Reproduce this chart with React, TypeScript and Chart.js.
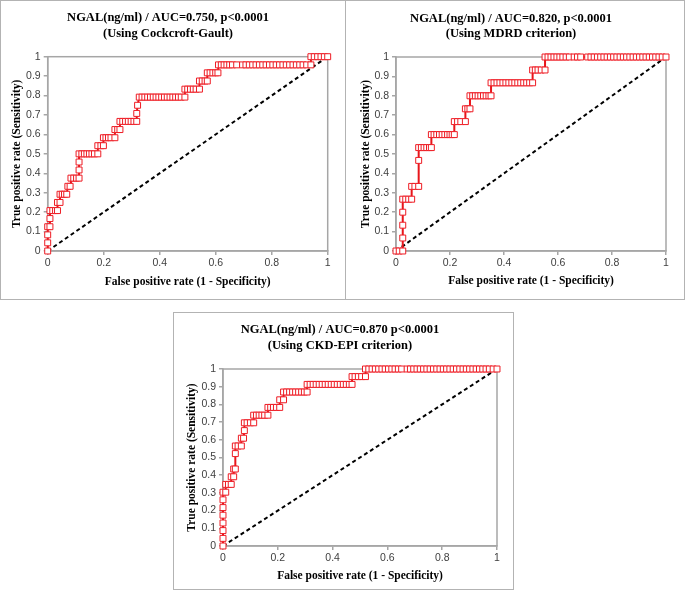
import React, { useEffect, useRef } from "react";
import { Chart, registerables } from "chart.js";
Chart.register(...registerables);

// ---------- DATA ----------
const titleCG = ["NGAL(ng/ml) / AUC=0.750, p<0.0001", "(Using Cockcroft-Gault)"];
const titleMDRD = ["NGAL(ng/ml) / AUC=0.820, p<0.0001", "(Using MDRD criterion)"];
const titleCKD = ["NGAL(ng/ml) / AUC=0.870 p<0.0001", "(Using CKD-EPI criterion)"];
const xAxisTitle = "False positive rate (1 - Specificity)";
const yAxisTitle = "True positive rate (Sensitivity)";

const referenceLine: [number, number][] = [[0, 0], [1, 1]];

const rocCG: [number, number][] = [
  [0, 0], [0, 0.042], [0, 0.083], [0, 0.125],
  [0.008, 0.125], [0.008, 0.167], [0.008, 0.208],
  [0.018, 0.208], [0.028, 0.208], [0.035, 0.208],
  [0.035, 0.25], [0.044, 0.25],
  [0.044, 0.292], [0.052, 0.292], [0.06, 0.292], [0.068, 0.292],
  [0.072, 0.333], [0.08, 0.333],
  [0.083, 0.375], [0.093, 0.375], [0.103, 0.375], [0.112, 0.375],
  [0.112, 0.417], [0.112, 0.458], [0.112, 0.5],
  [0.122, 0.5], [0.131, 0.5], [0.14, 0.5], [0.149, 0.5], [0.158, 0.5], [0.167, 0.5], [0.179, 0.5],
  [0.179, 0.542], [0.19, 0.542], [0.199, 0.542],
  [0.199, 0.583], [0.208, 0.583], [0.217, 0.583], [0.226, 0.583], [0.24, 0.583],
  [0.24, 0.625], [0.25, 0.625], [0.258, 0.625],
  [0.258, 0.667], [0.268, 0.667], [0.278, 0.667], [0.288, 0.667], [0.298, 0.667], [0.308, 0.667], [0.318, 0.667],
  [0.318, 0.708], [0.321, 0.75],
  [0.327, 0.792], [0.337, 0.792], [0.347, 0.792], [0.357, 0.792], [0.367, 0.792], [0.377, 0.792], [0.387, 0.792],
  [0.397, 0.792], [0.407, 0.792], [0.417, 0.792], [0.427, 0.792], [0.437, 0.792], [0.447, 0.792], [0.457, 0.792],
  [0.467, 0.792], [0.477, 0.792], [0.49, 0.792],
  [0.49, 0.833], [0.5, 0.833], [0.51, 0.833], [0.52, 0.833], [0.53, 0.833], [0.542, 0.833],
  [0.542, 0.875], [0.552, 0.875], [0.562, 0.875], [0.57, 0.875],
  [0.57, 0.917], [0.58, 0.917], [0.59, 0.917], [0.6, 0.917], [0.608, 0.917],
  [0.61, 0.958], [0.62, 0.958], [0.63, 0.958], [0.64, 0.958], [0.65, 0.958], [0.66, 0.958], [0.675, 0.958],
  [0.696, 0.958], [0.708, 0.958], [0.72, 0.958], [0.732, 0.958], [0.744, 0.958], [0.756, 0.958], [0.768, 0.958],
  [0.78, 0.958], [0.792, 0.958], [0.804, 0.958], [0.816, 0.958], [0.828, 0.958], [0.84, 0.958], [0.852, 0.958],
  [0.864, 0.958], [0.876, 0.958], [0.888, 0.958], [0.9, 0.958], [0.912, 0.958], [0.925, 0.958], [0.94, 0.958],
  [0.94, 1], [0.952, 1], [0.964, 1], [0.976, 1], [0.988, 1], [1, 1],
];

const rocMDRD: [number, number][] = [
  [0, 0], [0.012, 0], [0.025, 0],
  [0.025, 0.067], [0.025, 0.133], [0.025, 0.2], [0.025, 0.267],
  [0.036, 0.267], [0.047, 0.267], [0.058, 0.267],
  [0.058, 0.333], [0.07, 0.333], [0.084, 0.333],
  [0.084, 0.467], [0.084, 0.533],
  [0.094, 0.533], [0.104, 0.533], [0.114, 0.533], [0.124, 0.533], [0.131, 0.533],
  [0.131, 0.6], [0.141, 0.6], [0.151, 0.6], [0.161, 0.6], [0.171, 0.6], [0.181, 0.6], [0.191, 0.6], [0.2, 0.6],
  [0.208, 0.6], [0.216, 0.6],
  [0.216, 0.667], [0.228, 0.667], [0.24, 0.667], [0.257, 0.667],
  [0.257, 0.733], [0.266, 0.733], [0.274, 0.733],
  [0.274, 0.8], [0.284, 0.8], [0.294, 0.8], [0.304, 0.8], [0.314, 0.8], [0.324, 0.8], [0.334, 0.8], [0.344, 0.8],
  [0.352, 0.8],
  [0.352, 0.867], [0.363, 0.867], [0.374, 0.867], [0.385, 0.867], [0.396, 0.867], [0.407, 0.867], [0.418, 0.867],
  [0.429, 0.867], [0.44, 0.867], [0.451, 0.867], [0.462, 0.867], [0.473, 0.867], [0.484, 0.867], [0.495, 0.867],
  [0.506, 0.867],
  [0.506, 0.933], [0.516, 0.933], [0.526, 0.933], [0.538, 0.933], [0.552, 0.933],
  [0.552, 1], [0.563, 1], [0.574, 1], [0.585, 1], [0.596, 1], [0.607, 1], [0.618, 1], [0.63, 1], [0.642, 1],
  [0.66, 1], [0.672, 1], [0.684, 1],
  [0.71, 1], [0.722, 1], [0.734, 1], [0.746, 1], [0.758, 1], [0.77, 1], [0.782, 1], [0.794, 1], [0.806, 1],
  [0.818, 1], [0.83, 1], [0.842, 1], [0.854, 1], [0.866, 1], [0.878, 1], [0.89, 1], [0.902, 1], [0.914, 1],
  [0.926, 1], [0.938, 1], [0.95, 1], [0.962, 1], [0.974, 1], [0.986, 1], [1, 1],
];

const rocCKD: [number, number][] = [
  [0, 0], [0, 0.043], [0, 0.087], [0, 0.13], [0, 0.174], [0, 0.217], [0, 0.261], [0, 0.304],
  [0.01, 0.304],
  [0.01, 0.348], [0.02, 0.348], [0.03, 0.348],
  [0.03, 0.391], [0.039, 0.391],
  [0.039, 0.435], [0.045, 0.435],
  [0.045, 0.522],
  [0.045, 0.565], [0.055, 0.565], [0.067, 0.565],
  [0.067, 0.609], [0.075, 0.609],
  [0.078, 0.652],
  [0.078, 0.696], [0.088, 0.696], [0.1, 0.696], [0.112, 0.696],
  [0.112, 0.739], [0.122, 0.739], [0.132, 0.739], [0.142, 0.739], [0.152, 0.739], [0.164, 0.739],
  [0.164, 0.783], [0.174, 0.783], [0.184, 0.783], [0.195, 0.783], [0.207, 0.783],
  [0.207, 0.826], [0.221, 0.826],
  [0.221, 0.87], [0.232, 0.87], [0.243, 0.87], [0.254, 0.87], [0.265, 0.87], [0.276, 0.87], [0.287, 0.87],
  [0.297, 0.87], [0.307, 0.87],
  [0.307, 0.913], [0.318, 0.913], [0.329, 0.913], [0.34, 0.913], [0.351, 0.913], [0.362, 0.913], [0.373, 0.913],
  [0.384, 0.913], [0.395, 0.913], [0.406, 0.913], [0.417, 0.913], [0.428, 0.913], [0.439, 0.913], [0.45, 0.913],
  [0.461, 0.913], [0.471, 0.913],
  [0.471, 0.957], [0.482, 0.957], [0.494, 0.957], [0.506, 0.957], [0.52, 0.957],
  [0.52, 1], [0.532, 1], [0.544, 1], [0.556, 1], [0.568, 1], [0.58, 1], [0.592, 1], [0.604, 1], [0.616, 1],
  [0.628, 1], [0.64, 1], [0.652, 1], [0.672, 1],
  [0.684, 1], [0.696, 1], [0.708, 1], [0.72, 1], [0.732, 1], [0.744, 1], [0.756, 1], [0.768, 1], [0.78, 1],
  [0.792, 1], [0.804, 1], [0.816, 1], [0.828, 1], [0.84, 1], [0.852, 1], [0.864, 1], [0.876, 1], [0.888, 1],
  [0.9, 1], [0.912, 1], [0.924, 1], [0.936, 1], [0.948, 1], [0.96, 1], [0.972, 1], [0.986, 1], [1, 1],
];

// ---------- LAYOUT ----------
type PanelCfg = {
  left: number; top: number; w: number; h: number;
  title: string[]; roc: [number, number][];
  aL: number; aR: number; aT: number; aB: number;
  titleY1: number; titleCx: number; yTitleX: number; xTitleY: number;
};

const TITLE_FS = 12.5;
const TITLE_LH = 15.5;
const AXIS_FS = 11.5;
const AXIS_LH = AXIS_FS * 1.2;
const TICK_FS = 10.5;

const panels: PanelCfg[] = [
  { left: 0, top: 0, w: 346, h: 300, title: titleCG, roc: rocCG,
    aL: 47.7, aR: 327.7, aT: 56.7, aB: 251, titleY1: 18, titleCx: 168, yTitleX: 17, xTitleY: 282 },
  { left: 345, top: 0, w: 340, h: 300, title: titleMDRD, roc: rocMDRD,
    aL: 51, aR: 321, aT: 57, aB: 251, titleY1: 18.3, titleCx: 166, yTitleX: 21, xTitleY: 281 },
  { left: 173, top: 312, w: 341, h: 278, title: titleCKD, roc: rocCKD,
    aL: 50, aR: 324, aT: 57, aB: 234, titleY1: 18, titleCx: 167, yTitleX: 19, xTitleY: 264 },
];

const framePlugin = {
  id: "frame",
  beforeDatasetsDraw(chart: any) {
    const { ctx, chartArea: a } = chart;
    ctx.save();
    ctx.strokeStyle = "#a6a6a6";
    ctx.lineWidth = 1.5;
    ctx.strokeRect(a.left, a.top, a.right - a.left, a.bottom - a.top);
    ctx.restore();
  },
};

const serif = "'Liberation Serif', 'Times New Roman', serif";
const sans = "'Liberation Sans', Arial, sans-serif";

function Panel({ cfg }: { cfg: PanelCfg }) {
  const ref = useRef<HTMLCanvasElement>(null);
  useEffect(() => {
    if (!ref.current) return;
    const padL = 2 * cfg.titleCx - cfg.aR;
    const padR = cfg.w - cfg.aR;
    const tPadTop = cfg.titleY1 - TITLE_LH / 2;
    const tPadBottom = cfg.aT - tPadTop - 2 * TITLE_LH;
    const yTitlePad = cfg.yTitleX - AXIS_LH / 2 - padL;
    const xTitlePad = cfg.h - cfg.xTitleY - AXIS_LH / 2;
    const tickOpts = (step: number, pad: number) => ({
      stepSize: step,
      padding: pad,
      color: "#404040",
      font: { family: sans, size: TICK_FS },
      callback: (v: any) => String(Math.round(Number(v) * 10) / 10),
    });
    const gridOpts = { drawOnChartArea: false, drawTicks: true, tickLength: 4, color: "#a6a6a6", lineWidth: 1.5 };
    const borderOpts = { display: true, color: "#a6a6a6", width: 1.5 };
    const axisFont = { family: serif, size: AXIS_FS, weight: "bold", lineHeight: 1.2 };
    const chart = new Chart(ref.current, {
      type: "scatter",
      data: {
        datasets: [
          {
            data: cfg.roc.map(([x, y]) => ({ x, y })),
            showLine: true,
            borderColor: "#e8161b",
            borderWidth: 2,
            pointStyle: "rect",
            pointRadius: 4.2,
            pointBorderWidth: 1,
            pointBorderColor: "#ee1c24",
            pointBackgroundColor: "#ffffff",
            clip: false,
          } as any,
          {
            data: referenceLine.map(([x, y]) => ({ x, y })),
            showLine: true,
            borderColor: "#000000",
            borderWidth: 2,
            borderDash: [4, 3],
            pointRadius: 0,
            clip: false,
          } as any,
        ],
      },
      options: {
        animation: false,
        responsive: false,
        events: [],
        layout: { padding: { left: padL, right: padR, top: 0, bottom: 0 } },
        plugins: {
          legend: { display: false },
          tooltip: { enabled: false },
          title: {
            display: true,
            text: cfg.title,
            color: "#000",
            font: { family: serif, size: TITLE_FS, weight: "bold", lineHeight: TITLE_LH / TITLE_FS },
            padding: { top: tPadTop, bottom: tPadBottom },
          },
        },
        scales: {
          x: {
            type: "linear",
            min: 0,
            max: 1,
            afterFit: (s: any) => { s.height = cfg.h - cfg.aB; },
            ticks: tickOpts(0.2, 2),
            grid: gridOpts,
            border: borderOpts,
            title: { display: true, text: xAxisTitle, color: "#000", font: axisFont, padding: { top: 0, bottom: xTitlePad } },
          },
          y: {
            type: "linear",
            min: 0,
            max: 1,
            afterFit: (s: any) => { s.width = cfg.aL - padL; },
            ticks: tickOpts(0.1, 3),
            grid: gridOpts,
            border: borderOpts,
            title: { display: true, text: yAxisTitle, color: "#000", font: axisFont, padding: { top: yTitlePad, bottom: 0 } },
          },
        },
      } as any,
      plugins: [framePlugin],
    });
    return () => chart.destroy();
  }, [cfg]);

  return (
    <div style={{ position: "absolute", left: cfg.left, top: cfg.top, width: cfg.w, height: cfg.h }}>
      <canvas ref={ref} width={cfg.w} height={cfg.h} style={{ position: "absolute", left: 0, top: 0, width: cfg.w, height: cfg.h }} />
      <div style={{ position: "absolute", inset: 0, border: "1.5px solid #b3b3b3", boxSizing: "border-box", pointerEvents: "none" }} />
    </div>
  );
}

export default function App() {
  return (
    <div style={{ position: "absolute", left: 0, top: 0, width: 685, height: 591, background: "#fff" }}>
      {panels.map((p, i) => <Panel key={i} cfg={p} />)}
    </div>
  );
}
